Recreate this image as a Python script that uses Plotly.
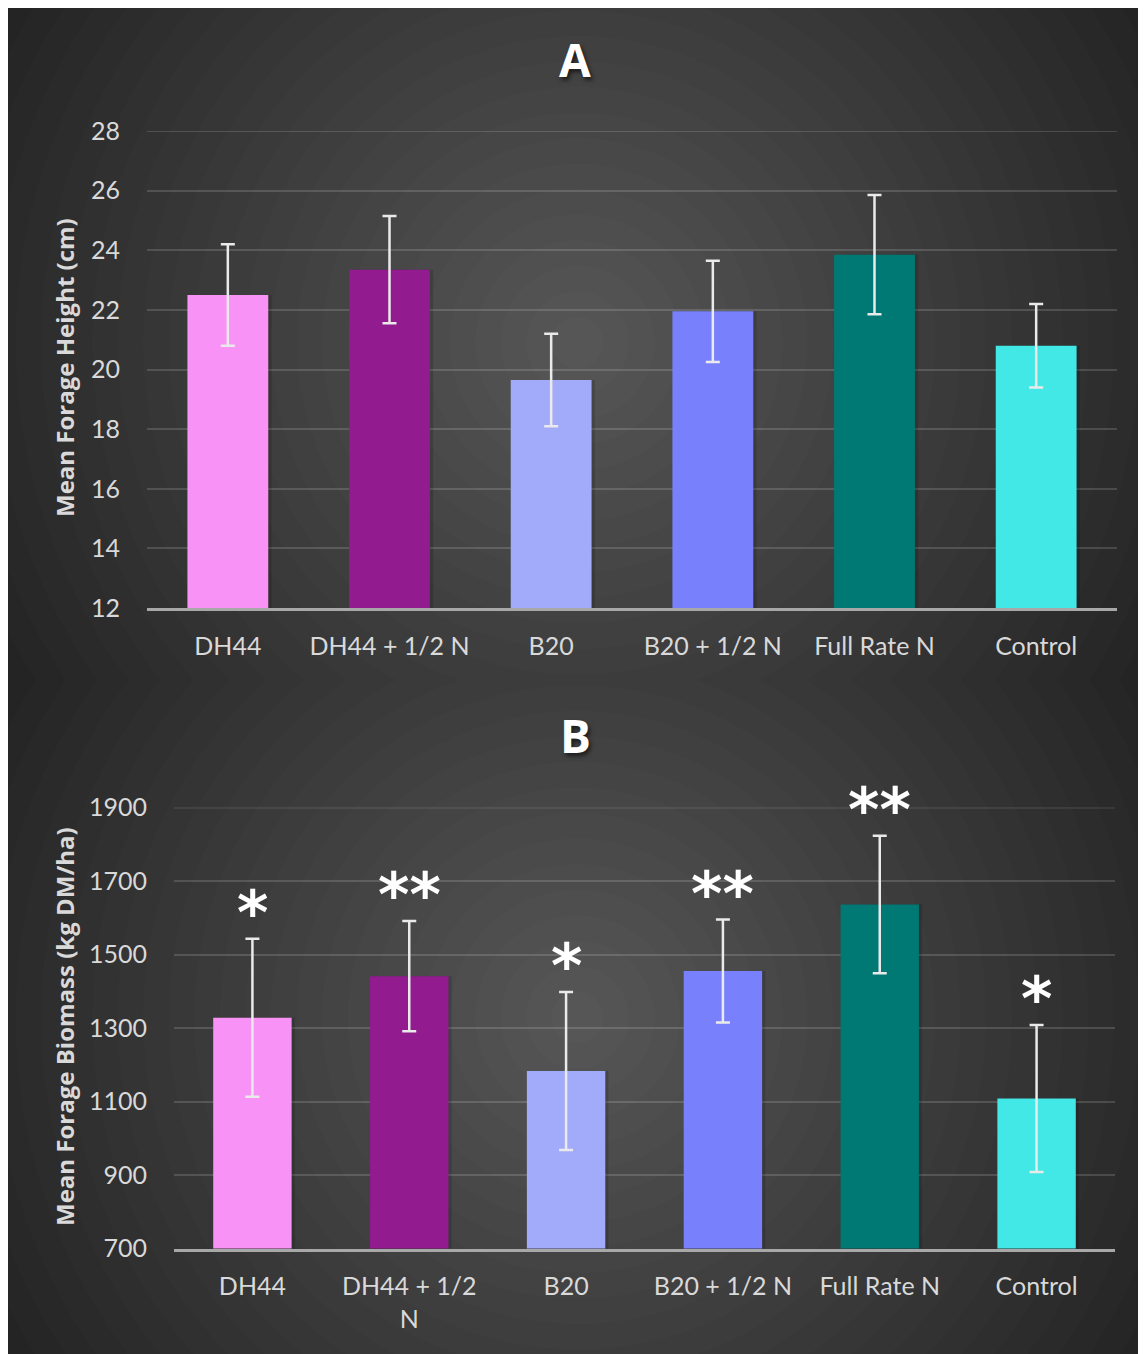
import base64
import struct
import zlib

import numpy as np
import plotly.graph_objects as go

# ---------------- data ----------------
categories = ["DH44", "DH44 + 1/2 N", "B20", "B20 + 1/2 N", "Full Rate N", "Control"]
categories_b_labels = ["DH44", "DH44 + 1/2<br>N", "B20", "B20 + 1/2 N", "Full Rate N", "Control"]

height_mean = [22.5, 23.35, 19.65, 21.95, 23.85, 20.8]
height_err = [1.7, 1.8, 1.55, 1.7, 2.0, 1.4]

biomass_mean = [1328, 1441, 1183, 1455, 1636, 1108]
biomass_err = [215, 150, 215, 140, 187, 200]
biomass_sig = ["*", "**", "*", "**", "**", "*"]

bar_colors = ["#F992F6", "#911B8F", "#A2AAFA", "#7880FC", "#007873", "#41E8E5"]

height_ticks = [12, 14, 16, 18, 20, 22, 24, 26, 28]
biomass_ticks = [700, 900, 1100, 1300, 1500, 1700, 1900]

# ---------------- figure geometry ----------------
W, H = 1138, 1346


def make_background():
    yy, xx = np.mgrid[0:H, 0:W].astype(float)
    split = 672
    cy = np.where(yy < split, 334.0, 1009.0)
    r = np.hypot(xx - 569.0, yy - cy)
    c = 88.0 - 47.0 * r / 600.0
    c = np.floor(c / 2.0) * 2.0
    c = np.clip(c, 36, 90).astype(np.uint8)
    raw = b"".join(b"\x00" + c[i].tobytes() for i in range(H))

    def chunk(t, d):
        out = struct.pack(">I", len(d)) + t + d
        return out + struct.pack(">I", zlib.crc32(t + d) & 0xFFFFFFFF)

    png = (b"\x89PNG\r\n\x1a\n"
           + chunk(b"IHDR", struct.pack(">IIBBBBB", W, H, 8, 0, 0, 0, 0))
           + chunk(b"IDAT", zlib.compress(raw, 9))
           + chunk(b"IEND", b""))
    return "data:image/png;base64," + base64.b64encode(png).decode()


TXT = "#D9D9D9"
TICKFONT = dict(family="Lato, Liberation Sans, sans-serif", size=25, color=TXT)
ERR_STYLE = dict(color="#EAEAEA", thickness=2.5, width=7)

fig = go.Figure()

for xa, ya, means, errs in (("x", "y", height_mean, height_err),
                            ("x2", "y2", biomass_mean, biomass_err)):
    # soft drop shadow behind each bar
    fig.add_trace(go.Bar(
        x=categories, y=means, width=0.5, offset=-0.23, xaxis=xa, yaxis=ya,
        marker=dict(color="rgba(0,0,0,0.15)", line=dict(width=0)),
        hoverinfo="skip", showlegend=False,
    ))
    fig.add_trace(go.Bar(
        x=categories, y=means, width=0.5, offset=-0.25, xaxis=xa, yaxis=ya,
        marker=dict(color=bar_colors, line=dict(width=0)),
        error_y=dict(type="data", array=errs, visible=True, **ERR_STYLE),
        showlegend=False,
    ))

grid = "rgba(255,255,255,0.15)"
axis_common = dict(showgrid=True, gridcolor=grid, gridwidth=2, zeroline=False,
                   ticks="", tickfont=TICKFONT, ticklabelstandoff=26,
                   automargin=False)
xaxis_common = dict(type="category", range=[-0.5, 5.5], showgrid=False,
                    showline=True, linecolor="#A8A8A8", linewidth=2.5,
                    ticks="", tickfont=TICKFONT, ticklabelstandoff=14,
                    automargin=False)

fig.update_layout(
    width=W, height=H,
    margin=dict(l=0, r=0, t=0, b=0, autoexpand=False),
    paper_bgcolor="#404040",
    plot_bgcolor="rgba(0,0,0,0)",
    barmode="overlay",
    xaxis=dict(domain=[139 / W, 1109 / W], anchor="y", **xaxis_common),
    yaxis=dict(domain=[1 - 600 / H, 1 - 123 / H], anchor="x",
               range=[height_ticks[0], height_ticks[-1]], tickvals=height_ticks,
               **axis_common),
    xaxis2=dict(domain=[166 / W, 1107 / W], anchor="y2",
                tickvals=categories, ticktext=categories_b_labels,
                **xaxis_common),
    yaxis2=dict(domain=[1 - 1240.5 / H, 1 - 799.5 / H], anchor="x2",
                range=[biomass_ticks[0], biomass_ticks[-1]], tickvals=biomass_ticks,
                **axis_common),
    images=[dict(source=make_background(), xref="paper", yref="paper",
                 x=0, y=1, sizex=1, sizey=1, sizing="stretch",
                 xanchor="left", yanchor="top", layer="below")],
)

# top gridlines (plotly drops gridlines that sit exactly on the plot edge)
for xr, yr, top in (("x domain", "y", height_ticks[-1]),
                    ("x2 domain", "y2", biomass_ticks[-1])):
    fig.add_shape(type="line", xref=xr, yref=yr, x0=0, x1=1, y0=top, y1=top,
                  line=dict(color=grid, width=2), layer="below")

title_font = dict(family="Open Sans, DejaVu Sans, sans-serif", size=46,
                  color="#FFFFFF", weight="bold", shadow="2px 3px 4px rgba(0,0,0,0.6)")
fig.add_annotation(text="A", x=567 / W, y=1 - 51 / H, xref="paper", yref="paper",
                   showarrow=False, font=title_font, xanchor="center", yanchor="middle")
fig.add_annotation(text="B", x=567 / W, y=1 - 727 / H, xref="paper", yref="paper",
                   showarrow=False, font=title_font, xanchor="center", yanchor="middle")

ytitle_font = dict(family="Open Sans, DejaVu Sans, sans-serif", size=24,
                   color=TXT, weight="bold")
fig.add_annotation(text="Mean Forage Height (cm)", x=57 / W, y=1 - 360 / H,
                   xref="paper", yref="paper", showarrow=False, textangle=-90,
                   font=ytitle_font, xanchor="center", yanchor="middle")
fig.add_annotation(text="Mean Forage Biomass (kg DM/ha)", x=56 / W, y=1 - 1019 / H,
                   xref="paper", yref="paper", showarrow=False, textangle=-90,
                   font=ytitle_font, xanchor="center", yanchor="middle")

star_font = dict(family="DejaVu Sans, sans-serif", size=60, color="#FFFFFF", weight="bold")
for cat, m, e, s in zip(categories, biomass_mean, biomass_err, biomass_sig):
    fig.add_annotation(text=s, x=cat, y=m + e, xref="x2", yref="y2",
                       showarrow=False, font=star_font, xanchor="center",
                       yanchor="middle", yshift=26)

fig.write_html("out.html")
